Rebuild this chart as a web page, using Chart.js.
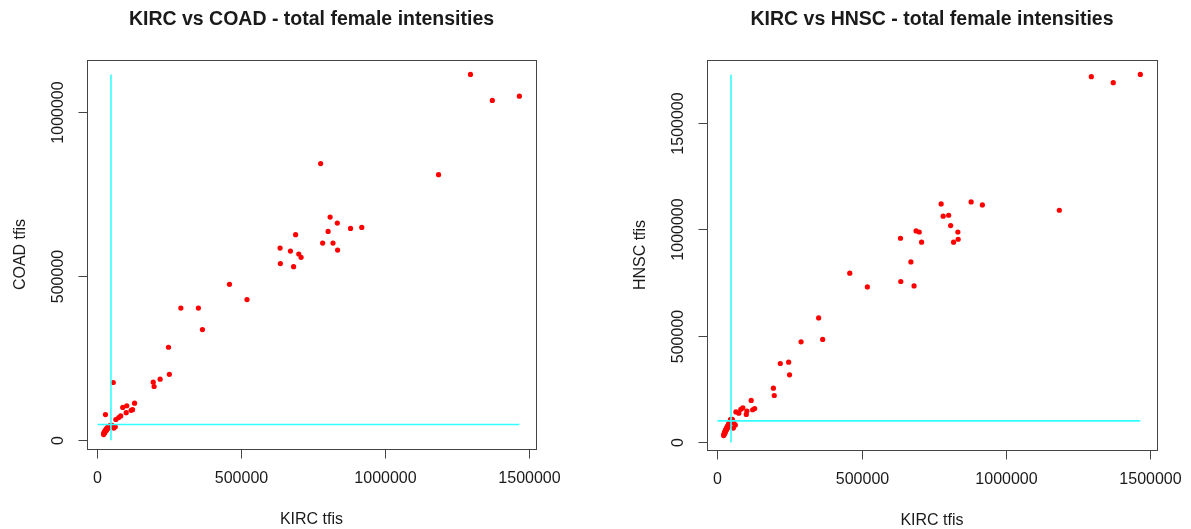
<!DOCTYPE html>
<html>
<head>
<meta charset="utf-8">
<title>KIRC total female intensities</title>
<script src="https://cdn.jsdelivr.net/npm/chart.js@4.4.1/dist/chart.umd.min.js"></script>
<style>
  html, body { margin: 0; padding: 0; background: #ffffff; }
  #wrap { position: relative; width: 1191px; height: 529px; overflow: hidden; }
  canvas { position: absolute; top: 0; }
  #left { left: 0; }
  #right { left: 595px; }
</style>
</head>
<body>
<div id="wrap">
  <canvas id="left" width="595" height="529"></canvas>
  <canvas id="right" width="596" height="529"></canvas>
</div>
<script>
// total female intensities per sample (KIRC on x, COAD / HNSC on y)
const kircTfis = [
  21500, 22400, 23100, 23800, 24600, 25300, 26000, 26800, 27800, 28300,
  29000, 29900, 30700, 31600, 32400, 33300, 34200, 35100, 36300, 37200,
  38400, 39600, 40900, 42200, 43700, 45500, 48000, 51500, 55000, 57000,
  62000, 64000, 74000, 81000, 88000, 100000, 102000, 117000, 122000, 129000,
  194000, 197000, 218000, 247000, 250000, 290000, 351000, 365000, 459000, 520000,
  635000, 636000, 671000, 682000, 689000, 700000, 708000, 776000, 783000, 802000,
  809000, 819000, 834000, 835000, 880000, 919000, 1186000, 1297000, 1373000, 1467000
];
const coadTfis = [
  17000, 20500, 22800, 24100, 21900, 26400, 27300, 25600, 78000, 29800,
  31500, 28700, 33200, 34600, 32100, 36200, 37400, 35300, 38900, 40100,
  37800, 41600, 42800, 40500, 44300, 43100, 45600, 44200, 176000, 37000,
  41000, 63000, 69000, 74000, 100000, 84000, 105000, 91000, 93000, 113000,
  177000, 163700, 186000, 283500, 201000, 403000, 403000, 337500, 475600, 429000,
  586000, 538700, 577000, 529500, 627000, 568000, 558000, 844000, 601500, 637000,
  680800, 601500, 662500, 580000, 646000, 649000, 810000, 1116000, 1036600, 1049700
];
const hnscTfis = [
  32000, 36500, 41000, 38500, 45500, 49000, 44000, 52500, 56000, 50500,
  59500, 62000, 57500, 66000, 69500, 64000, 73000, 76500, 71000, 80000,
  84500, 88000, 82500, 93000, 97500, 108000, 102000, 108500, 67000, 92000,
  81000, 143000, 137000, 155000, 162000, 131000, 147000, 197000, 153000, 159000,
  254500, 220000, 370000, 376000, 317000, 471600, 584000, 483000, 793600, 729400,
  957600, 754700, 846600, 734000, 992000, 987000, 939000, 1118500, 1061000, 1065500,
  1017000, 939000, 987000, 953000, 1128000, 1114000, 1089000, 1715600, 1687500, 1726000
];

// cut-off guide lines
const kircCut = 47000;
const coadCut = 48000;
const hnscCut = 101000;

// tick labels
const kircTicks = [0, 500000, 1000000, 1500000];
const coadTicks = [0, 500000, 1000000];
const hnscTicks = [0, 500000, 1000000, 1500000];

const leftTitle = 'KIRC vs COAD - total female intensities';
const rightTitle = 'KIRC vs HNSC - total female intensities';
const kircLabel = 'KIRC tfis';
const coadLabel = 'COAD tfis';
const hnscLabel = 'HNSC tfis';

const FONT = '"Liberation Sans", Arial, Helvetica, sans-serif';

// axis range padded by 4% on both sides
function paddedRange(values) {
  const lo = Math.min(...values), hi = Math.max(...values);
  const pad = (hi - lo) * 0.04;
  return { min: lo - pad, max: hi + pad };
}

// boxed plot region with outward ticks, rotated y labels and titles
const boxAxesPlugin = {
  id: 'boxAxes',
  afterDraw(chart, args, opts) {
    const { ctx, chartArea: a } = chart;
    const xs = chart.scales.x, ys = chart.scales.y;
    const L = Math.round(a.left) + 0.5, R = Math.round(a.right) + 0.5;
    const T = Math.round(a.top) + 0.5, B = Math.round(a.bottom) + 0.5;
    ctx.save();
    ctx.strokeStyle = '#444444';
    ctx.lineWidth = 1;
    ctx.strokeRect(L, T, R - L, B - T);

    ctx.fillStyle = '#1a1a1a';
    ctx.font = '16px ' + FONT;
    ctx.textAlign = 'center';
    ctx.textBaseline = 'middle';

    opts.xTicks.forEach(v => {
      const px = Math.round(xs.getPixelForValue(v)) + 0.5;
      ctx.beginPath(); ctx.moveTo(px, B); ctx.lineTo(px, B + 9); ctx.stroke();
      ctx.fillText(String(v), px, B + 29);
    });
    opts.yTicks.forEach(v => {
      const py = Math.round(ys.getPixelForValue(v)) + 0.5;
      ctx.beginPath(); ctx.moveTo(L - 9, py); ctx.lineTo(L, py); ctx.stroke();
      ctx.save();
      ctx.translate(L - 29, py);
      ctx.rotate(-Math.PI / 2);
      ctx.fillText(String(v), 0, 0);
      ctx.restore();
    });

    const cx = (a.left + a.right) / 2, cy = (a.top + a.bottom) / 2;
    ctx.fillText(opts.xTitle, cx, B + 70);
    ctx.save();
    ctx.translate(L - 67, cy);
    ctx.rotate(-Math.PI / 2);
    ctx.fillText(opts.yTitle, 0, 0);
    ctx.restore();

    ctx.font = 'bold 19.5px ' + FONT;
    ctx.fillText(opts.title, cx, 20);
    ctx.restore();
  }
};

function makePlot(canvasId, yValues, yCut, yTicks, title, yTitle, padding) {
  const points = kircTfis.map((x, i) => ({ x: x, y: yValues[i] }));
  const xr = paddedRange(kircTfis);
  const yr = paddedRange(yValues);
  const xMax = Math.max(...kircTfis);
  const yMax = Math.max(...yValues);
  return new Chart(document.getElementById(canvasId), {
    type: 'scatter',
    data: {
      datasets: [
        {
          label: 'samples',
          data: points,
          order: 2,
          pointRadius: 2.6,
          pointBorderWidth: 0,
          pointBackgroundColor: '#ff0000',
          pointBorderColor: '#ff0000'
        },
        {
          type: 'line',
          label: 'KIRC cut',
          data: [{ x: kircCut, y: 0 }, { x: kircCut, y: yMax }],
          order: 1,
          showLine: true,
          borderColor: '#33ffff',
          borderWidth: 1.6,
          pointRadius: 0,
          fill: false
        },
        {
          type: 'line',
          label: 'y cut',
          data: [{ x: 0, y: yCut }, { x: xMax, y: yCut }],
          order: 1,
          showLine: true,
          borderColor: '#33ffff',
          borderWidth: 1.6,
          pointRadius: 0,
          fill: false
        }
      ]
    },
    options: {
      responsive: false,
      animation: false,
      devicePixelRatio: 1,
      layout: { padding: padding },
      scales: {
        x: { type: 'linear', display: false, min: xr.min, max: xr.max },
        y: { type: 'linear', display: false, min: yr.min, max: yr.max }
      },
      plugins: {
        legend: { display: false },
        tooltip: { enabled: false },
        boxAxes: {
          xTicks: kircTicks,
          yTicks: yTicks,
          title: title,
          xTitle: kircLabel,
          yTitle: yTitle
        }
      }
    },
    plugins: [boxAxesPlugin]
  });
}

makePlot('left', coadTfis, coadCut, coadTicks, leftTitle, coadLabel,
  { left: 87, top: 60, right: 59, bottom: 80 });
makePlot('right', hnscTfis, hnscCut, hnscTicks, rightTitle, hnscLabel,
  { left: 112, top: 60, right: 34, bottom: 79 });
</script>
</body>
</html>
